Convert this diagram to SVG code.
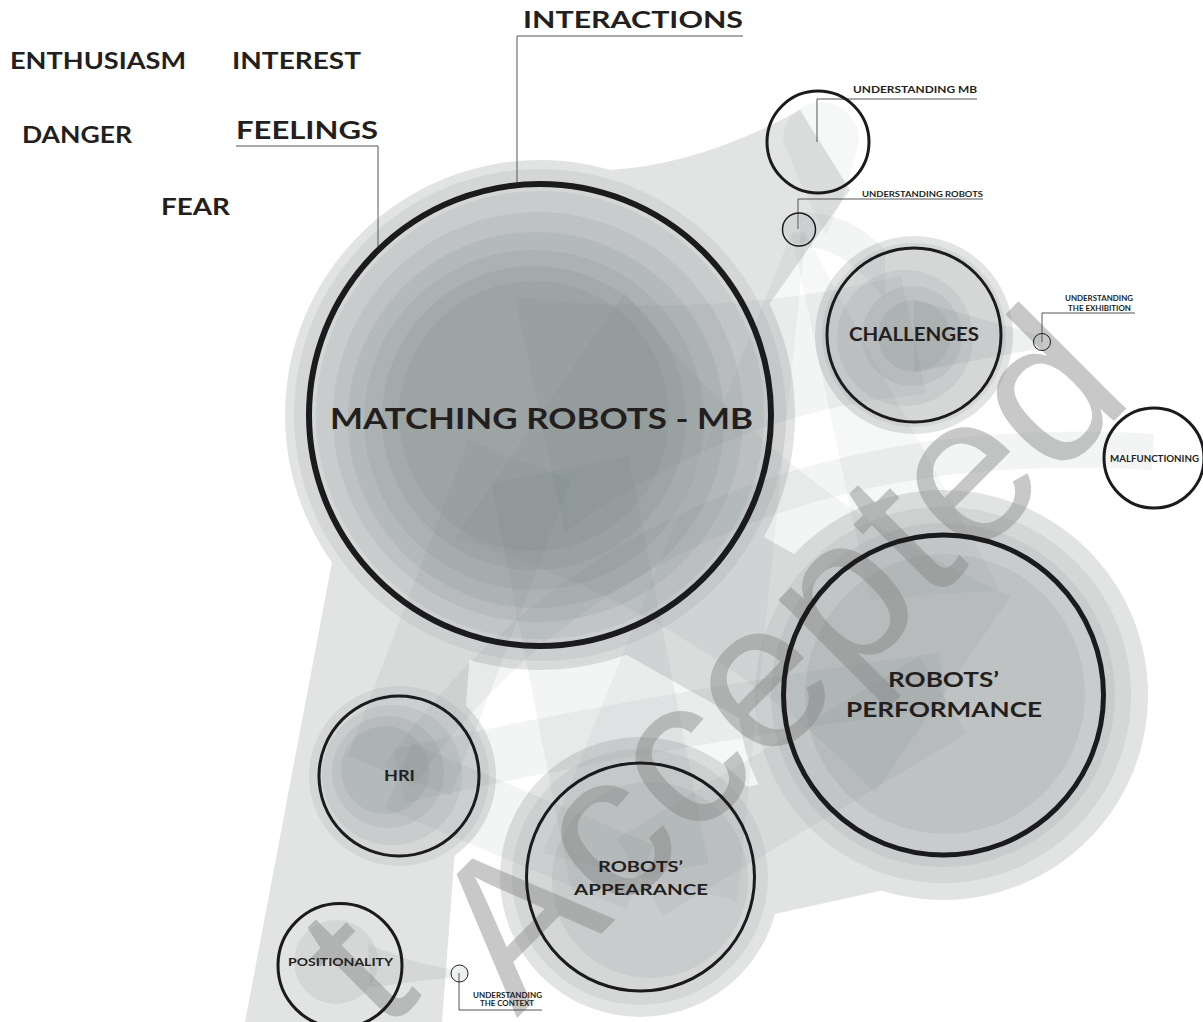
<svg xmlns="http://www.w3.org/2000/svg" width="1203" height="1022" viewBox="0 0 1203 1022">
<defs>
<style>
.l{fill:#e2e3e3}
.m{fill:#6b7073;fill-opacity:0.105}
.b{fill:#6b7073;fill-opacity:0.08}
.s{fill:#6b7073;fill-opacity:0.06}
.bs{fill:none;stroke:#6b7073;stroke-opacity:0.08;stroke-linecap:butt}
.ls{fill:none;stroke:#e2e3e3;stroke-linecap:round}
.ring{fill:none;stroke:#1b1b1d}
.lead{fill:none;stroke:#555;stroke-width:1}
.t{font-family:Lato,"DejaVu Sans",sans-serif;font-weight:700;fill:#231f20}
.wm{font-family:"Liberation Sans",Arial,sans-serif;fill:#858585;fill-opacity:0.45}
</style>
</defs>
<rect width="1203" height="1022" fill="#ffffff"/>
<g id="blobs">
  <path class="l" d="M800,110 Q700,165 610,170 L680,430 L850,190 Z"/>
  <path class="l" d="M340,520 L480,520 L442,1022 L245,1022 Z"/>
  <path class="ls" stroke-width="170" d="M560,520 L880,700"/>
  <path class="ls" stroke-width="130" d="M640,877 L900,820"/>
  <circle class="l" cx="540" cy="415" r="255"/>
  <circle class="l" cx="943" cy="695" r="205"/>
  <circle class="l" cx="640" cy="877" r="140"/>
  <circle class="l" cx="399" cy="776" r="97"/>
  <circle class="l" cx="914" cy="335" r="99"/>
  <path class="s" d="M792,232 L806,232 L737,901 L543,853 Z"/>
  <path class="s" d="M792,235 L806,235 L1000,590 L870,600 Z"/>
  <circle class="m" cx="540" cy="415" r="246"/>
  <circle class="m" cx="540" cy="415" r="224"/>
  <circle class="m" cx="538" cy="417" r="205"/>
  <circle class="m" cx="536" cy="420" r="188"/>
  <circle class="m" cx="534" cy="420" r="170"/>
  <circle class="m" cx="534" cy="418" r="152"/>
  <circle class="m" cx="534" cy="416" r="135"/>
  <circle class="m" cx="943" cy="695" r="188"/>
  <circle class="m" cx="943" cy="695" r="172"/>
  <circle class="m" cx="945" cy="694" r="140"/>
  <circle class="m" cx="914" cy="335" r="92"/>
  <circle class="m" cx="905" cy="338" r="68"/>
  <circle class="m" cx="912" cy="336" r="50"/>
  <circle class="m" cx="914" cy="336" r="36"/>
  <circle class="m" cx="399" cy="776" r="90"/>
  <circle class="m" cx="392" cy="775" r="70"/>
  <circle class="m" cx="388" cy="772" r="56"/>
  <circle class="m" cx="385" cy="770" r="44"/>
  <circle class="m" cx="640" cy="877" r="128"/>
  <circle class="m" cx="650" cy="880" r="98"/>
  <path class="s" d="M783,140 A38,38 0 0 1 859,140 Q850,185 826,235 Q800,185 783,140 Z"/>
  <path class="b" d="M625,292 Q781,497 1011,596 L875,793 Q702,612 455,538 Z"/>
  <path class="b" d="M515,297 Q718,321 901,276 L926,394 Q736,409 565,532 Z"/>
  <path class="m" d="M914,300 L1042,336 L1042,348 L914,372 Z"/>
  <path class="b" d="M800,212 Q850,212 885,250 L885,300 Q845,246 800,246 Z"/>
  <path class="bs" stroke-width="36" d="M399,776 C550,560 800,430 1153,452"/>
  <path class="bs" stroke-width="55" d="M399,776 Q650,720 943,680"/>
  <path class="bs" stroke-width="140" d="M560,470 L640,877"/>
  <path class="bs" stroke-width="110" d="M520,460 L399,776"/>
  <path class="bs" stroke-width="70" d="M399,776 L640,877"/>
  <path class="bs" stroke-width="90" d="M640,877 L943,695"/>
  <circle class="m" cx="336" cy="962" r="42"/>
  <path class="m" d="M368,944 Q420,966 452,969 L452,978 Q420,980 370,988 Z"/>
  <circle class="m" cx="460" cy="973" r="8"/>
  <circle class="m" cx="799" cy="229" r="15"/>
</g>
<g id="watermark">
  <text class="wm" font-size="210" text-anchor="end" transform="translate(1136,399) rotate(-45)">Accepted</text>
  <text class="wm" font-size="200" transform="translate(384,1034) rotate(-45)">t</text>
</g>
<g id="connectors">
  <polyline class="lead" points="743,36 517,36 517,185"/>
  <polyline class="lead" points="378,146 236,146"/>
  <polyline class="lead" points="378,146 378,250"/>
  <polyline class="lead" points="977,99 817,99 817,142"/>
  <polyline class="lead" points="983,199 798,199 798,229"/>
  <polyline class="lead" points="1135,313 1042,313 1042,342"/>
  <polyline class="lead" points="459,973 459,1010 542,1010"/>
</g>
<g id="labels">
  <text class="t" x="10" y="69" font-size="22" textLength="176" lengthAdjust="spacingAndGlyphs">ENTHUSIASM</text>
  <text class="t" x="232" y="69" font-size="22" textLength="129" lengthAdjust="spacingAndGlyphs">INTEREST</text>
  <text class="t" x="22" y="143" font-size="22" textLength="110" lengthAdjust="spacingAndGlyphs">DANGER</text>
  <text class="t" x="161" y="215" font-size="22" textLength="69" lengthAdjust="spacingAndGlyphs">FEAR</text>
</g>
<g id="node-feelings">
  <text class="t" x="236" y="139" font-size="24" textLength="142" lengthAdjust="spacingAndGlyphs">FEELINGS</text>
</g>
<g id="node-interactions">
  <text class="t" x="523" y="28" font-size="22" textLength="220" lengthAdjust="spacingAndGlyphs">INTERACTIONS</text>
</g>
<g id="node-mb">
  <circle class="ring" cx="540" cy="415" r="231" stroke-width="6"/>
  <text class="t" x="330" y="429" font-size="28" textLength="423" lengthAdjust="spacingAndGlyphs">MATCHING ROBOTS - MB</text>
</g>
<g id="node-performance">
  <circle class="ring" cx="943.5" cy="695" r="160" stroke-width="5"/>
  <text class="t" x="888" y="687" font-size="20" textLength="111" lengthAdjust="spacingAndGlyphs">ROBOTS’</text>
  <text class="t" x="846" y="717" font-size="20" textLength="196" lengthAdjust="spacingAndGlyphs">PERFORMANCE</text>
</g>
<g id="node-challenges">
  <circle class="ring" cx="914" cy="335" r="87" stroke-width="3"/>
  <text class="t" x="849" y="341" font-size="18" textLength="130" lengthAdjust="spacingAndGlyphs">CHALLENGES</text>
</g>
<g id="node-understanding-mb">
  <circle class="ring" cx="818" cy="142" r="51" stroke-width="3"/>
  <text class="t" x="853" y="93" font-size="9.5" textLength="124" lengthAdjust="spacingAndGlyphs">UNDERSTANDING MB</text>
</g>
<g id="node-understanding-robots">
  <circle class="ring" cx="799" cy="229.5" r="16.5" stroke-width="1.5"/>
  <text class="t" x="862" y="197" font-size="8" textLength="121" lengthAdjust="spacingAndGlyphs">UNDERSTANDING ROBOTS</text>
</g>
<g id="node-understanding-exhibition">
  <circle class="ring" cx="1042" cy="342" r="8.5" stroke-width="1"/>
  <text class="t" x="1065" y="301" font-size="7" textLength="68" lengthAdjust="spacingAndGlyphs">UNDERSTANDING</text>
  <text class="t" x="1068" y="311" font-size="7" textLength="63" lengthAdjust="spacingAndGlyphs">THE EXHIBITION</text>
</g>
<g id="node-malfunctioning">
  <circle class="ring" cx="1154" cy="458" r="50" stroke-width="3" fill="#ffffff"/>
  <text class="t" x="1110" y="462" font-size="9" textLength="89" lengthAdjust="spacingAndGlyphs">MALFUNCTIONING</text>
</g>
<g id="node-hri">
  <circle class="ring" cx="399" cy="776" r="80" stroke-width="3"/>
  <text class="t" x="384" y="781" font-size="15" textLength="31" lengthAdjust="spacingAndGlyphs">HRI</text>
</g>
<g id="node-appearance">
  <circle class="ring" cx="640.5" cy="877" r="114" stroke-width="3"/>
  <text class="t" x="598" y="872" font-size="16" textLength="85" lengthAdjust="spacingAndGlyphs">ROBOTS’</text>
  <text class="t" x="574" y="895" font-size="16" textLength="134" lengthAdjust="spacingAndGlyphs">APPEARANCE</text>
</g>
<g id="node-positionality">
  <circle class="ring" cx="340" cy="965.5" r="62" stroke-width="3"/>
  <text class="t" x="288" y="966" font-size="12" textLength="105" lengthAdjust="spacingAndGlyphs">POSITIONALITY</text>
</g>
<g id="node-understanding-context">
  <circle class="ring" cx="459.5" cy="973.5" r="8.5" stroke-width="1"/>
  <text class="t" x="473" y="998" font-size="7" textLength="69" lengthAdjust="spacingAndGlyphs">UNDERSTANDING</text>
  <text class="t" x="480" y="1006" font-size="7" textLength="54" lengthAdjust="spacingAndGlyphs">THE CONTEXT</text>
</g>
</svg>
